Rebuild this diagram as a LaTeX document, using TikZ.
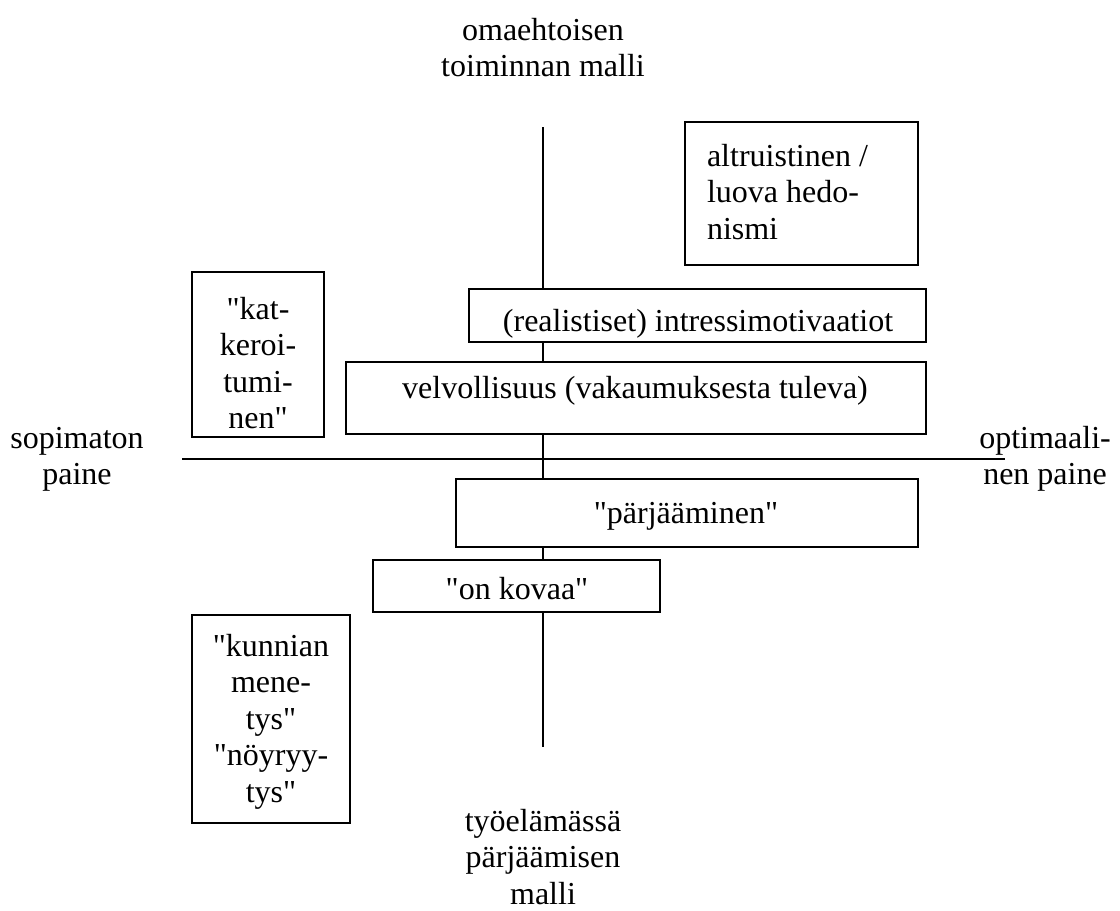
\documentclass[tikz,border=0pt]{standalone}
\usepackage{fontspec}
\setmainfont{Liberation Serif}[Ligatures=TeXOff]
\newcommand{\stack}[2]{\begin{tabular}[t]{@{}#1@{}}#2\end{tabular}}
\begin{document}
\begin{tikzpicture}[x=1pt,y=-1pt,
  every node/.style={font=\fontsize{32}{36.6}\selectfont, inner sep=0pt, outer sep=0pt},
  axis/.style={line width=2.8pt},
  frame/.style={draw, line width=2pt, fill=white, rectangle, anchor=north west},
  lbl/.style={anchor=base}]
\useasboundingbox (0,0) rectangle (1120,911);

% axes
\coordinate (vtop) at (543,127);
\coordinate (vbot) at (543,747);
\coordinate (hleft) at (182,459);
\coordinate (hright) at (1005,459);
\draw[axis] (vtop) -- (vbot);
\draw[axis] (hleft) -- (hright);

% boxes
\node[frame, minimum width=233, minimum height=143] (altr) at (685,122) {};
\node[frame, minimum width=132, minimum height=165] (katk) at (192,272) {};
\node[frame, minimum width=457, minimum height=53] (real) at (469,289) {};
\node[frame, minimum width=580, minimum height=72] (velv) at (346,362) {};
\node[frame, minimum width=462, minimum height=68] (parj) at (456,479) {};
\node[frame, minimum width=287, minimum height=52] (kova) at (373,560) {};
\node[frame, minimum width=158, minimum height=208] (kunn) at (192,615) {};

% box texts
\node[anchor=base west] (altrtxt) at (707,166) {\stack{l}{altruistinen /\\luova hedo-\\nismi}};
\node[lbl] (katktxt) at (258,319) {\stack{c}{"kat-\\keroi-\\tumi-\\nen"}};
\node[lbl] (realtxt) at (698,331) {(realistiset) intressimotivaatiot};
\node[lbl] (velvtxt) at (635,398) {velvollisuus (vakaumuksesta tuleva)};
\node[lbl] (parjtxt) at (686,523) {"pärjääminen"};
\node[lbl] (kovatxt) at (517,599) {"on kovaa"};
\node[lbl] (kunntxt) at (271,656) {\stack{c}{"kunnian\\mene-\\tys"\\"nöyryy-\\tys"}};

% axis labels
\node[lbl] (toplab) at (543,40) {\stack{c}{omaehtoisen\\toiminnan malli}};
\node[lbl] (botlab) at (543,831) {\stack{c}{työelämässä\\pärjäämisen\\malli}};
\node[lbl] (leftlab) at (77,448) {\stack{c}{sopimaton\\paine}};
\node[lbl] (rightlab) at (1045,448) {\stack{c}{optimaali-\\nen paine}};
\end{tikzpicture}
\end{document}
